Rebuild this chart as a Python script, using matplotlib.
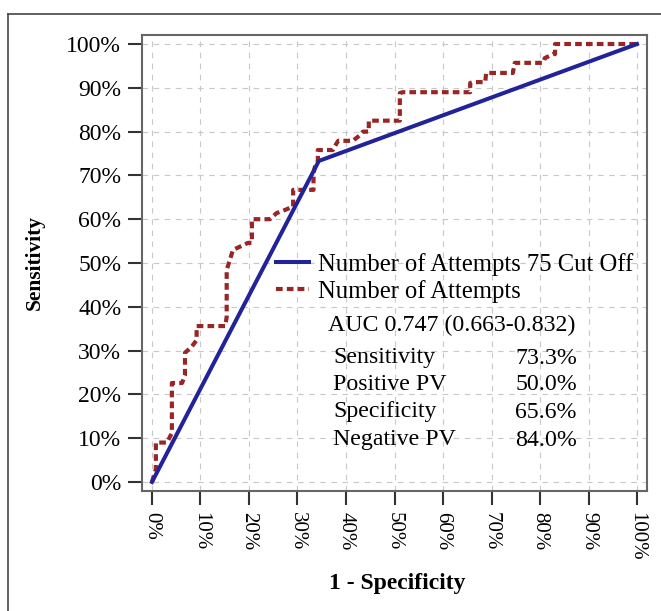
import matplotlib
matplotlib.use("Agg")
import matplotlib.pyplot as plt
from matplotlib.lines import Line2D

plt.rcParams['font.family'] = ['Liberation Serif', 'DejaVu Serif']

# cut-off ROC (straight segments through the 75 attempts cut point)
cut_fpr = [0.0, 0.344, 1.0]
cut_tpr = [0.0, 0.733, 1.0]

# empirical ROC of number of attempts
roc_fpr = [0.0, 0.008, 0.008, 0.031, 0.041, 0.041, 0.062, 0.068, 0.068, 0.082,
           0.092, 0.092, 0.151, 0.154, 0.154, 0.167, 0.175, 0.198, 0.206, 0.206,
           0.243, 0.257, 0.274, 0.291, 0.291, 0.333, 0.333, 0.336, 0.342, 0.342,
           0.373, 0.381, 0.384, 0.414, 0.429, 0.435, 0.447, 0.447, 0.511, 0.511,
           0.517, 0.656, 0.656, 0.662, 0.687, 0.689, 0.744, 0.748, 0.806, 0.810,
           0.827, 0.831, 0.831, 1.0]
roc_tpr = [0.0, 0.030, 0.090, 0.090, 0.112, 0.226, 0.226, 0.244, 0.295, 0.309,
           0.324, 0.356, 0.356, 0.377, 0.484, 0.530, 0.534, 0.546, 0.546, 0.600,
           0.600, 0.614, 0.621, 0.629, 0.667, 0.667, 0.705, 0.720, 0.733, 0.758,
           0.758, 0.774, 0.779, 0.779, 0.792, 0.800, 0.800, 0.825, 0.825, 0.888,
           0.890, 0.890, 0.911, 0.913, 0.913, 0.934, 0.934, 0.957, 0.957, 0.968,
           0.977, 0.977, 1.0, 1.0]

ticks = [i / 10 for i in range(11)]
tick_labels = [f"{i * 10}%" for i in range(11)]

stat_names = ["Sensitivity", "Positive PV", "Specificity", "Negative PV"]
stat_values = ["73.3%", "50.0%", "65.6%", "84.0%"]
auc_text = "AUC 0.747 (0.663-0.832)"

W, H = 661, 611
fig = plt.figure(figsize=(W / 100, H / 100), dpi=100)
ax = fig.add_axes([142 / W, 1 - 491 / H, 505 / W, 456 / H])

blue = '#22229a'
red = '#982626'

red_line, = ax.plot(roc_fpr, roc_tpr, color=red, lw=3.0, linestyle=(0, (1.6, 1.0)),
                    label='Number of Attempts')
blue_line, = ax.plot(cut_fpr, cut_tpr, color=blue, lw=2.9,
                     label='Number of Attempts 75 Cut Off')

ax.set_xlim(-0.0206, 1.0206)
ax.set_ylim(-0.0206, 1.0206)
ax.set_xticks(ticks)
ax.set_yticks(ticks)
ax.set_xticklabels(tick_labels, fontsize=15, rotation=-90)
ax.set_yticklabels(tick_labels, fontsize=17)
ax.tick_params(length=10, width=1.5, color='#333333', pad=5)
ax.grid(True, color='#c8c8c8', lw=0.8, linestyle=(0, (5, 5)))
ax.set_axisbelow(True)
for sp in ax.spines.values():
    sp.set_color('#666666')
    sp.set_linewidth(1.5)

ax.legend(handles=[blue_line, red_line], loc='upper left',
          bbox_to_anchor=(276 / W, 1 - 253 / H), bbox_transform=fig.transFigure,
          frameon=False, fontsize=17.7, handlelength=1.35, handletextpad=0.35,
          labelspacing=0.15, borderpad=0, borderaxespad=0)

fig.text(328 / W, 1 - 325 / H, auc_text, fontsize=17.2, va='center', ha='left')
rows_y = [358, 385, 412, 440]
for name, val, y in zip(stat_names, stat_values, rows_y):
    fig.text(333 / W, 1 - y / H, name, fontsize=17.2, va='center', ha='left')
    fig.text(577 / W, 1 - y / H, val, fontsize=17.2, va='center', ha='right')

fig.text(35 / W, 1 - 262 / H, 'Sensitivity', fontsize=15.5, fontweight='bold',
         rotation=90, va='center', ha='center')
fig.text(397 / W, 1 - 583 / H, '1 - Specificity', fontsize=17, fontweight='bold',
         va='center', ha='center')

# outer frame (left and top only visible)
fig.add_artist(Line2D([8 / W, 8 / W], [0, 1 - 14 / H], transform=fig.transFigure,
                      color='#444444', lw=1.2))
fig.add_artist(Line2D([8 / W, 1], [1 - 14 / H, 1 - 14 / H], transform=fig.transFigure,
                      color='#444444', lw=1.2))

fig.savefig('out.png', dpi=100)
